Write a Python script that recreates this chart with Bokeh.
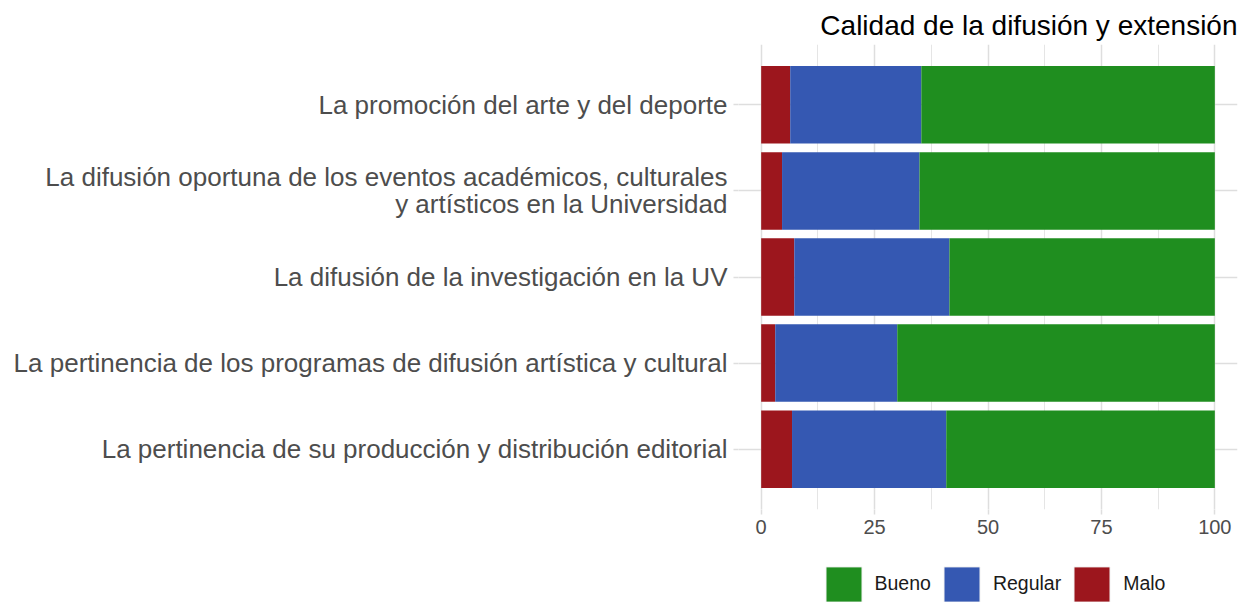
import numpy as np
from bokeh.plotting import figure
from bokeh.layouts import column
from bokeh.models import FactorRange, Range1d, FixedTicker, Legend, LegendItem, ColumnDataSource
from bokeh.embed import file_html
from bokeh.resources import INLINE

# ---- data ----
categories = [
    "La promoción del arte y del deporte",
    "La difusión oportuna de los eventos académicos, culturales\ny artísticos en la Universidad",
    "La difusión de la investigación en la UV",
    "La pertinencia de los programas de difusión artística y cultural",
    "La pertinencia de su producción y distribución editorial",
]
malo = [6.4, 4.6, 7.3, 3.1, 6.8]
regular = [28.9, 30.3, 34.2, 26.9, 34.0]
bueno = [64.7, 65.1, 58.5, 70.0, 59.2]
series_names = ["Bueno", "Regular", "Malo"]
x_ticks = [0, 25, 50, 75, 100]
x_minor = [12.5, 37.5, 62.5, 87.5]
title_text = "Calidad de la difusión y extensión"

colors = {"Bueno": "#1F8E1F", "Regular": "#3558B2", "Malo": "#9C161D"}
FONT = "Liberation Sans"
GRID = "#dedede"

m = np.array(malo)
r = np.array(regular)
b = np.array(bueno)
src = ColumnDataSource(dict(
    cat=categories,
    m0=np.zeros(len(m)), m1=m,
    r0=m, r1=m + r,
    b0=m + r, b1=m + r + b,
))

p = figure(
    width=1242, height=550,
    y_range=FactorRange(factors=categories[::-1], range_padding=0.2, range_padding_units="absolute"),
    x_range=Range1d(-5, 105),
    output_backend="svg", toolbar_location=None,
    min_border_left=738, min_border_right=5, min_border_top=44, min_border_bottom=41,
)
p.outline_line_color = None
p.background_fill_color = "white"

rm = p.hbar(y="cat", left="m0", right="m1", height=0.9, source=src, fill_color=colors["Malo"], line_color=None)
rr = p.hbar(y="cat", left="r0", right="r1", height=0.9, source=src, fill_color=colors["Regular"], line_color=None)
rb = p.hbar(y="cat", left="b0", right="b1", height=0.9, source=src, fill_color=colors["Bueno"], line_color=None)

# title
p.title.text = title_text
p.title.align = "right"
p.title.text_font = FONT
p.title.text_font_size = "28px"
p.title.text_font_style = "normal"
p.title.text_color = "black"
p.title.standoff = 7

# axes
p.xaxis.ticker = FixedTicker(ticks=x_ticks, minor_ticks=x_minor)
for ax in (p.xaxis[0], p.yaxis[0]):
    ax.axis_line_color = None
    ax.major_tick_line_color = GRID
    ax.major_tick_line_width = 1.5
    ax.major_tick_out = 5
    ax.major_tick_in = 0
    ax.minor_tick_out = 0
    ax.minor_tick_in = 0
    ax.major_label_text_font = FONT
    ax.major_label_text_color = "#4d4d4d"
p.xaxis.major_label_text_font_size = "20px"
p.xaxis.major_label_standoff = 5
p.yaxis.major_label_text_font_size = "26px"
p.yaxis.major_label_text_line_height = 0.9
p.yaxis.major_label_standoff = 6

# grids
p.xgrid.grid_line_color = GRID
p.xgrid.grid_line_width = 1.5
p.xgrid.minor_grid_line_color = GRID
p.xgrid.minor_grid_line_width = 0.8
p.ygrid.grid_line_color = GRID
p.ygrid.grid_line_width = 1.5
p.grid.level = "underlay"

# ---- legend strip below ----
q = figure(width=1242, height=52, x_range=Range1d(0, 1), y_range=Range1d(0, 1),
           output_backend="svg", toolbar_location=None,
           x_axis_type=None, y_axis_type=None,
           min_border_left=738, min_border_right=5, min_border_top=0, min_border_bottom=0)
q.outline_line_color = None
q.grid.visible = False
# swatch-only source: NaN coordinates draw nothing in the strip, but give the legend its style
swatch = ColumnDataSource(dict(y=[np.nan], left=[np.nan], right=[np.nan]))
lr = {}
for name in series_names:
    lr[name] = q.hbar(y="y", left="left", right="right", height=1, source=swatch,
                      fill_color=colors[name], line_color="#f2f2f2", line_width=1)

legend = Legend(
    items=[LegendItem(label=n, renderers=[lr[n]]) for n in series_names],
    orientation="horizontal", location=(82.5, -3.5),
    glyph_width=45, glyph_height=44, label_standoff=9, spacing=8,
    padding=0, margin=0, border_line_color=None, background_fill_alpha=0,
    label_text_font=FONT, label_text_font_size="19.5px", label_text_color="#1a1a1a",
)
q.add_layout(legend)

layout = column(p, q, spacing=0)
open("out.html", "w").write(file_html(layout, INLINE))
